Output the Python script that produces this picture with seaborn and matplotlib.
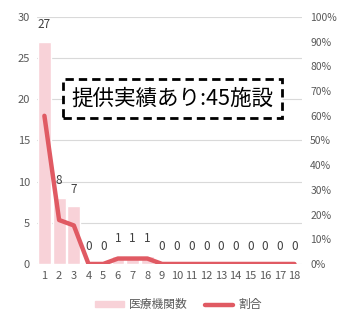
import matplotlib
matplotlib.use("Agg")
import matplotlib.pyplot as plt
from matplotlib.patches import Patch
from matplotlib.lines import Line2D
import numpy as np
import seaborn as sns

sns.set_style("white")
plt.rcParams['font.family'] = ['Noto Sans CJK JP', 'DejaVu Sans']

# data
categories = [str(i) for i in range(1, 19)]
counts = [27, 8, 7, 0, 0, 1, 1, 1, 0, 0, 0, 0, 0, 0, 0, 0, 0, 0]
ratio = [60.0, 17.8, 15.6, 0, 0, 2.2, 2.2, 2.2, 0, 0, 0, 0, 0, 0, 0, 0, 0, 0]
left_ticks = [0, 5, 10, 15, 20, 25, 30]
right_ticks = [0, 10, 20, 30, 40, 50, 60, 70, 80, 90, 100]

bar_col = '#f8d2d8'
line_col = '#e05a63'
txt_col = '#595959'

fig = plt.figure(figsize=(3.43, 3.15), dpi=100)
ax = fig.add_axes([0.108, 0.162, 0.772, 0.784])

sns.barplot(x=categories, y=counts, color=bar_col, width=0.87, ax=ax, saturation=1)
ax.set_ylim(0, 30)
ax.set_xlim(-0.5, 17.5)
ax.set_yticks(left_ticks)
ax.yaxis.grid(True, color='#d9d9d9', lw=0.8)
ax.set_axisbelow(True)
for s in ax.spines.values():
    s.set_visible(False)
ax.tick_params(axis='both', length=0, labelsize=8, colors=txt_col, pad=5)
ax.tick_params(axis='x', pad=5)

# data labels
for i, v in enumerate(counts):
    ax.text(i, v + 1.3, str(v), ha='center', va='bottom', fontsize=8.5, color='#404040')

ax2 = ax.twinx()
sns.lineplot(x=np.arange(len(categories)), y=ratio, color=line_col, lw=3.2, ax=ax2)
ax2.set_ylim(0, 100)
ax2.set_yticks(right_ticks)
ax2.set_yticklabels([f'{t}%' for t in right_ticks])
for s in ax2.spines.values():
    s.set_visible(False)
ax2.tick_params(axis='y', length=0, labelsize=7.5, colors=txt_col, pad=6)

# annotation box
fig.text(0.502, 0.688, '提供実績あり:45施設', ha='center', va='center', fontsize=15.5, color='black',
         bbox=dict(boxstyle='square,pad=0.4', fc='white', ec='black', ls=(0, (3, 1.8)), lw=2.0))

handles = [Patch(color=bar_col), Line2D([0], [0], color=line_col, lw=3.2)]
fig.legend(handles, ['医療機関数', '割合'], loc='center', bbox_to_anchor=(0.52, 0.032), ncol=2,
           frameon=False, fontsize=8.5, labelcolor=txt_col, handlelength=2.4, columnspacing=1.5,
           handleheight=0.35, handletextpad=0.4)

fig.savefig('out.png', dpi=100)
